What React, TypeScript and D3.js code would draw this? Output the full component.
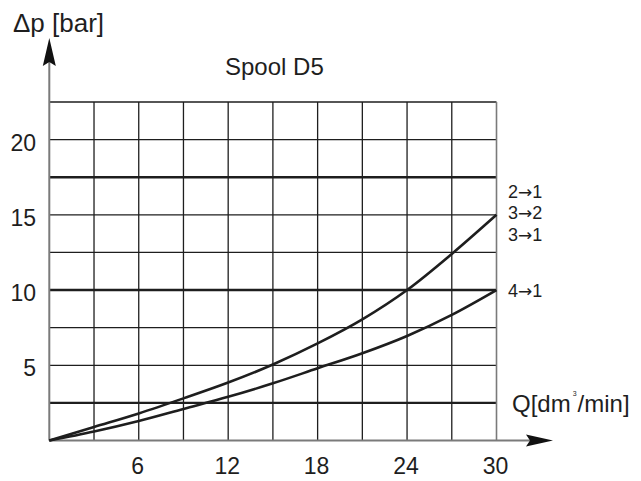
import React, { useEffect, useRef } from 'react';
import * as d3 from 'd3';

// Flow Q [dm3/min] sampled every 3 units
const flowQ = [0, 3, 6, 9, 12, 15, 18, 21, 24, 27, 30];
// Pressure drop for 2->1, 3->2, 3->1
const dpUpper = [0, 0.9, 1.8, 2.8, 3.85, 5.05, 6.45, 8.05, 10, 12.4, 15];
// Pressure drop for 4->1
const dpLower = [0, 0.6, 1.3, 2.1, 2.9, 3.8, 4.8, 5.8, 6.95, 8.35, 10];

const xTicks = [6, 12, 18, 24, 30];
const yTicks = [5, 10, 15, 20];
const xGrid = [3, 6, 9, 12, 15, 18, 21, 24, 27];
const yGrid = [2.5, 5, 7.5, 10, 12.5, 15, 17.5, 20, 22.5];
const yGridThick = [2.5, 10, 17.5];

const upperLabels = [['2', '1'], ['3', '2'], ['3', '1']];
const lowerLabels = [['4', '1']];

const App: React.FC = () => {
  const svgRef = useRef<SVGSVGElement>(null);
  const width = 641;
  const height = 481;

  useEffect(() => {
    if (!svgRef.current) return;
    const svg = d3.select(svgRef.current);
    svg.selectAll('*').remove();

    const font = "'Liberation Sans', Arial, Helvetica, sans-serif";
    const ink = '#1e1e1e';
    const axisColor = '#7a7a7a';

    const xScale = d3.scaleLinear().domain([0, 30]).range([49.3, 496.5]);
    const yScale = d3.scaleLinear().domain([0, 22.5]).range([440.5, 102]);

    const g = svg.append('g');

    // vertical grid lines
    xGrid.forEach((q) => {
      g.append('line')
        .attr('x1', xScale(q))
        .attr('x2', xScale(q))
        .attr('y1', yScale(0))
        .attr('y2', yScale(22.5))
        .attr('stroke', ink)
        .attr('stroke-width', 1.3);
    });

    // horizontal grid lines (some heavier)
    yGrid.forEach((p) => {
      const thick = yGridThick.includes(p);
      g.append('line')
        .attr('x1', xScale(0))
        .attr('x2', xScale(30))
        .attr('y1', yScale(p))
        .attr('y2', yScale(p))
        .attr('stroke', ink)
        .attr('stroke-width', thick ? 2.4 : 1.3);
    });

    // right border
    g.append('line')
      .attr('x1', xScale(30))
      .attr('x2', xScale(30))
      .attr('y1', yScale(0))
      .attr('y2', yScale(22.5))
      .attr('stroke', axisColor)
      .attr('stroke-width', 1.6);

    // axes
    g.append('line')
      .attr('x1', xScale(0))
      .attr('x2', 530)
      .attr('y1', yScale(0))
      .attr('y2', yScale(0))
      .attr('stroke', axisColor)
      .attr('stroke-width', 2);
    g.append('line')
      .attr('x1', xScale(0))
      .attr('x2', xScale(0))
      .attr('y1', yScale(0))
      .attr('y2', 60)
      .attr('stroke', axisColor)
      .attr('stroke-width', 2);

    // arrow heads
    const ax = xScale(0);
    const ay = yScale(0);
    g.append('path')
      .attr('d', `M553,${ay} L526,${ay - 6} L530,${ay} L526,${ay + 6} Z`)
      .attr('fill', '#111');
    g.append('path')
      .attr('d', `M${ax},38 L${ax - 6.5},66 L${ax},62 L${ax + 6.5},66 Z`)
      .attr('fill', '#111');

    // curves
    const line = d3.line<[number, number]>()
      .x(d => xScale(d[0]))
      .y(d => yScale(d[1]))
      .curve(d3.curveMonotoneX);

    [dpUpper, dpLower].forEach((series) => {
      g.append('path')
        .attr('d', line(flowQ.map((q, i) => [q, series[i]] as [number, number])))
        .attr('fill', 'none')
        .attr('stroke', ink)
        .attr('stroke-width', 2.6);
    });

    // tick labels
    yTicks.forEach((p) => {
      g.append('text')
        .attr('x', 36)
        .attr('y', yScale(p) + 11)
        .attr('text-anchor', 'end')
        .attr('font-family', font)
        .attr('font-size', '23px')
        .attr('fill', ink)
        .text(p);
    });
    xTicks.forEach((q) => {
      g.append('text')
        .attr('x', xScale(q) - 1)
        .attr('y', 474)
        .attr('text-anchor', 'middle')
        .attr('font-family', font)
        .attr('font-size', '23px')
        .attr('fill', ink)
        .text(q);
    });

    // series labels at the right end
    const addPortLabel = (pair: string[], y: number) => {
      const t = g.append('text')
        .attr('x', 508)
        .attr('y', y)
        .attr('font-family', font)
        .attr('font-size', '18px')
        .attr('fill', ink);
      t.append('tspan').text(pair[0]);
      t.append('tspan')
        .attr('font-family', "'DejaVu Sans', sans-serif")
        .attr('font-size', '17px')
        .text('→');
      t.append('tspan').text(pair[1]);
    };
    const lastUpper = yScale(dpUpper[dpUpper.length - 1]);
    upperLabels.forEach((pair, i) => addPortLabel(pair, lastUpper - 17 + i * 21.5));
    const lastLower = yScale(dpLower[dpLower.length - 1]);
    lowerLabels.forEach((pair) => addPortLabel(pair, lastLower + 7));

    // axis titles
    svg.append('text')
      .attr('x', 13)
      .attr('y', 32)
      .attr('font-family', font)
      .attr('font-size', '26px')
      .attr('fill', ink)
      .text('Δp [bar]');

    const qLabel = svg.append('text')
      .attr('x', 512)
      .attr('y', 412)
      .attr('font-family', font)
      .attr('font-size', '24px')
      .attr('fill', ink);
    qLabel.append('tspan').text('Q[dm');
    qLabel.append('tspan')
      .attr('font-size', '7px')
      .attr('dx', 2)
      .attr('dy', -16)
      .text('3');
    qLabel.append('tspan')
      .attr('dx', 1)
      .attr('dy', 16)
      .text('/min]');

    svg.append('text')
      .attr('x', 225)
      .attr('y', 75)
      .attr('font-family', font)
      .attr('font-size', '24px')
      .attr('fill', ink)
      .text('Spool D5');
  }, []);

  return (
    <svg
      ref={svgRef}
      width={width}
      height={height}
      style={{ position: 'absolute', left: 0, top: 0, background: '#fff' }}
    />
  );
};

export default App;
